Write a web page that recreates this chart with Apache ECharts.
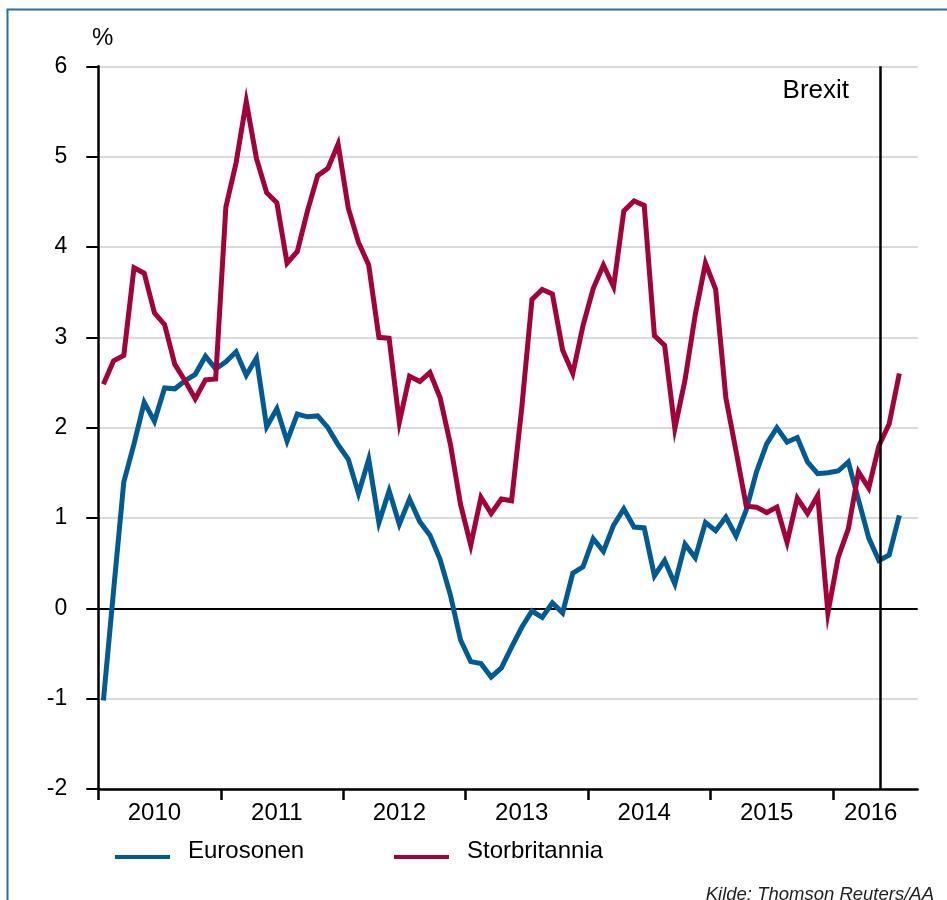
<!DOCTYPE html>
<html>
<head>
<meta charset="utf-8">
<script src="https://cdn.jsdelivr.net/npm/echarts@6/dist/echarts.min.js"></script>
<style>
html,body{margin:0;padding:0;background:#ffffff;}
#chart{width:947px;height:900px;}
</style>
</head>
<body>
<div id="chart"></div>
<script>
// ---- data ----
const startYear = 2010;
const yearLabels = ['2010', '2011', '2012', '2013', '2014', '2015', '2016'];
// monthly observations Jan 2010 .. Jul 2016
const months = [];
for (let y = 2010; y <= 2016; y++) {
  for (let m = 1; m <= 12; m++) {
    if (months.length < 79) months.push(y + '-' + (m < 10 ? '0' + m : m));
  }
}
const eurosonen = [
  -1.02, 0.20, 1.40, 1.82, 2.28, 2.07, 2.44, 2.43, 2.52, 2.59, 2.79, 2.65,
  2.73, 2.84, 2.58, 2.77, 2.01, 2.21, 1.85, 2.15, 2.12, 2.13, 2.00, 1.81,
  1.65, 1.27, 1.65, 0.95, 1.30, 0.93, 1.21, 0.96, 0.81, 0.54, 0.15, -0.35,
  -0.59, -0.61, -0.76, -0.66, -0.43, -0.21, -0.03, -0.10, 0.06, -0.05, 0.39, 0.46,
  0.77, 0.63, 0.92, 1.10, 0.90, 0.89, 0.36, 0.53, 0.27, 0.71, 0.56, 0.95,
  0.86, 1.01, 0.80, 1.09, 1.51, 1.82, 2.00, 1.84, 1.89, 1.62, 1.49, 1.50,
  1.52, 1.62, 1.20, 0.78, 0.53, 0.59, 1.03
];
const storbritannia = [
  2.48, 2.74, 2.80, 3.77, 3.71, 3.27, 3.14, 2.70, 2.52, 2.32, 2.53, 2.54,
  4.44, 4.93, 5.61, 4.98, 4.60, 4.49, 3.82, 3.95, 4.40, 4.79, 4.87, 5.14,
  4.43, 4.05, 3.80, 3.00, 2.99, 2.06, 2.57, 2.51, 2.61, 2.33, 1.82, 1.15,
  0.70, 1.23, 1.05, 1.21, 1.19, 2.22, 3.42, 3.53, 3.48, 2.86, 2.60, 3.13,
  3.54, 3.80, 3.56, 4.40, 4.51, 4.46, 3.02, 2.91, 1.99, 2.53, 3.25, 3.82,
  3.53, 2.33, 1.74, 1.13, 1.12, 1.06, 1.12, 0.73, 1.22, 1.05, 1.25, -0.05,
  0.56, 0.88, 1.51, 1.33, 1.80, 2.04, 2.60
];
const yMin = -2, yMax = 6, yStep = 1;
const brexitMonth = 76.6; // months since Jan 2010
const seriesNames = ['Eurosonen', 'Storbritannia'];
const colors = ['#005a94', '#a4003a'];

// ---- build ----
const FONT = '"Liberation Sans", Arial, Helvetica, sans-serif';
const toPairs = arr => arr.map((v, i) => [i + 0.5, v]);
const yearTicks = yearLabels.map((_, k) => k * 12);
const yearLabelPos = [5.5, 17.5, 29.5, 41.5, 53.5, 65.5, 75.7];
const nTicks = (yMax - yMin) / yStep + 1;
const splitColors = [];
for (let k = 0; k < nTicks; k++) splitColors.push(yMin + k * yStep === 0 ? '#000000' : '#dadada');
// legend key: a short bar sitting a little below the text's centre
const legendKey = 'path://M0,0 M0,12 L55,12 L55,16 L0,16 Z';

const chart = echarts.init(document.getElementById('chart'), null, {renderer: 'canvas'});
chart.setOption({
  animation: false,
  backgroundColor: '#ffffff',
  textStyle: {fontFamily: FONT},
  grid: {left: 98.3, right: 29.3, top: 66.3, bottom: 111, containLabel: false},
  xAxis: {
    type: 'value',
    min: 0,
    max: 80.3,
    interval: 12,
    axisLine: {show: true, onZero: false, lineStyle: {color: '#000', width: 2.5}},
    axisTick: {show: true, customValues: yearTicks, length: 11, lineStyle: {color: '#000', width: 2.5}},
    axisLabel: {
      customValues: yearLabelPos,
      formatter: v => yearLabels[Math.floor(v / 12)],
      color: '#000', fontSize: 24, fontFamily: FONT, margin: 12
    },
    splitLine: {show: false}
  },
  yAxis: {
    type: 'value',
    min: yMin,
    max: yMax,
    interval: yStep,
    axisLine: {show: true, onZero: false, lineStyle: {color: '#000', width: 2.5}},
    axisTick: {show: true, length: 12, lineStyle: {color: '#000', width: 2}},
    axisLabel: {color: '#000', fontSize: 23, fontFamily: FONT, margin: 31},
    splitLine: {show: true, lineStyle: {color: splitColors, width: 2}}
  },
  legend: [
    {
      left: 115, top: 839, padding: 0,
      icon: legendKey, itemWidth: 55, itemHeight: 16,
      data: [seriesNames[0]],
      textStyle: {color: '#000', fontSize: 24, fontFamily: FONT, padding: [0, 0, 0, 13]}
    },
    {
      left: 394, top: 839, padding: 0,
      icon: legendKey, itemWidth: 55, itemHeight: 16,
      data: [seriesNames[1]],
      textStyle: {color: '#000', fontSize: 24, fontFamily: FONT, padding: [0, 0, 0, 13]}
    }
  ],
  series: [
    {
      name: seriesNames[0], type: 'line', data: toPairs(eurosonen),
      showSymbol: false, symbol: 'none', color: colors[0],
      lineStyle: {width: 5, color: colors[0], join: 'miter', cap: 'butt'},
      z: 3
    },
    {
      name: seriesNames[1], type: 'line', data: toPairs(storbritannia),
      showSymbol: false, symbol: 'none', color: colors[1],
      lineStyle: {width: 5, color: colors[1], join: 'miter', cap: 'butt'},
      z: 4,
      markLine: {
        silent: true, symbol: ['none', 'none'], animation: false,
        label: {show: false},
        lineStyle: {color: '#000', width: 2.5, type: 'solid'},
        emphasis: {disabled: true},
        data: [{xAxis: brexitMonth}]
      }
    }
  ],
  graphic: [
    {type: 'rect', silent: true, z: -10,
     shape: {x: 7.5, y: 9.5, width: 1000, height: 1000},
     style: {fill: 'none', stroke: '#2e6da4', lineWidth: 2}},
    {type: 'text', silent: true, x: 92, y: 38,
     style: {text: '%', font: '24px ' + FONT, fill: '#000', align: 'left', verticalAlign: 'middle'}},
    {type: 'text', silent: true, x: 849, y: 91,
     style: {text: 'Brexit', font: '26px ' + FONT, fill: '#000', align: 'right', verticalAlign: 'middle'}},
    {type: 'text', silent: true, x: 934, y: 895,
     style: {text: 'Kilde: Thomson Reuters/AA', font: 'italic 18.5px ' + FONT, fill: '#222', align: 'right', verticalAlign: 'middle'}}
  ]
});
</script>
</body>
</html>
